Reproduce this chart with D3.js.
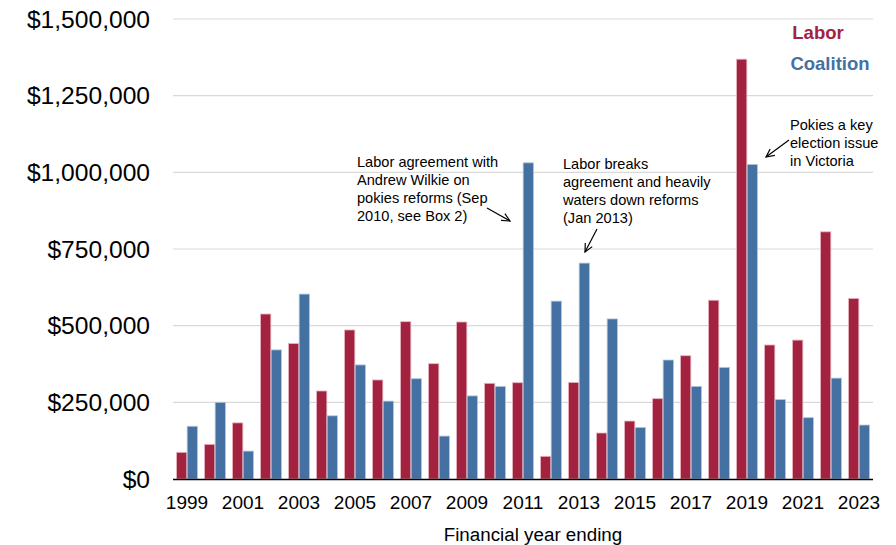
<!DOCTYPE html>
<html>
<head>
<meta charset="utf-8">
<script src="https://cdn.jsdelivr.net/npm/d3@7"></script>
<style>
  body { margin: 0; background: #fff; }
  svg { display: block; font-family: "Liberation Sans", Arial, sans-serif; }
</style>
</head>
<body>
<svg id="chart" width="896" height="545"></svg>
<script>
const years = [1999,2000,2001,2002,2003,2004,2005,2006,2007,2008,2009,2010,2011,2012,2013,2014,2015,2016,2017,2018,2019,2020,2021,2022,2023];
const labor = [87000,113000,183000,538000,442000,287000,486000,323000,513000,376000,512000,312000,314000,74000,315000,150000,189000,262000,402000,583000,1369000,437000,453000,806000,589000];
const coalition = [172000,250000,91000,421000,603000,206000,372000,254000,327000,140000,271000,302000,1031000,580000,704000,522000,168000,388000,302000,364000,1026000,259000,200000,329000,176000];
const yTicks = [0,250000,500000,750000,1000000,1250000,1500000];
const xTickYears = [1999,2001,2003,2005,2007,2009,2011,2013,2015,2017,2019,2021,2023];
const seriesNames = ["Labor","Coalition"];
const colors = {Labor: "#A3223F", Coalition: "#4470A2"};
const strokes = {Labor: "#e8b7c2", Coalition: "#b5c8de"};
const annotations = [
  {lines: ["Labor agreement with","Andrew Wilkie on","pokies reforms (Sep","2010, see Box 2)"], x: 357, y: 162, arrow: [487,208,510,221]},
  {lines: ["Labor breaks","agreement and heavily","waters down reforms","(Jan 2013)"], x: 563, y: 164, arrow: [597,229,585,252]},
  {lines: ["Pokies a key","election issue","in Victoria"], x: 790, y: 125, arrow: [789,140,766,157]}
];

(function () {
const svg = d3.select("#chart");
const pLeft = 173, pRight = 873, pTop = 19, pBottom = 479;

const y = d3.scaleLinear().domain([0,1500000]).range([pBottom, pTop]);
const x0 = d3.scaleBand().domain(years).range([pLeft, pRight]).paddingInner(0.25).paddingOuter(0.125);
const x1 = d3.scaleBand().domain(seriesNames).range([0, x0.bandwidth()]).paddingInner(0.03);

// gridlines
svg.append("g").selectAll("line").data(yTicks.filter(d => d > 0)).join("line")
  .attr("x1", pLeft).attr("x2", pRight)
  .attr("y1", d => y(d)).attr("y2", d => y(d))
  .attr("stroke", "#d9d9d9").attr("stroke-width", 1.2);

// y labels
const fmt = d3.format("$,");
svg.append("g").selectAll("text").data(yTicks).join("text")
  .attr("x", 150).attr("y", d => y(d))
  .attr("dy", "0.35em").attr("text-anchor", "end")
  .attr("font-size", 24.6).attr("fill", "#000")
  .text(d => fmt(d));

// bars
const groups = svg.append("g").selectAll("g").data(years).join("g")
  .attr("transform", d => `translate(${x0(d)},0)`);
groups.selectAll("rect").data((d, i) => [
  {s: "Labor", v: labor[i]}, {s: "Coalition", v: coalition[i]}
]).join("rect")
  .attr("x", d => x1(d.s)).attr("width", x1.bandwidth())
  .attr("y", d => y(d.v)).attr("height", d => y(0) - y(d.v))
  .attr("fill", d => colors[d.s])
  .attr("stroke", d => strokes[d.s]).attr("stroke-width", 0.8);

// baseline
svg.append("line").attr("x1", pLeft).attr("x2", pRight)
  .attr("y1", pBottom + 0.5).attr("y2", pBottom + 0.5)
  .attr("stroke", "#000").attr("stroke-width", 1.5);

// x labels
svg.append("g").selectAll("text").data(xTickYears).join("text")
  .attr("x", d => x0(d) + x0.bandwidth() / 2).attr("y", 502)
  .attr("dy", "0.35em").attr("text-anchor", "middle")
  .attr("font-size", 19).attr("fill", "#000")
  .text(d => d);

svg.append("text").attr("x", 533).attr("y", 534)
  .attr("dy", "0.35em").attr("text-anchor", "middle")
  .attr("font-size", 18.8).attr("fill", "#000")
  .text("Financial year ending");

// legend
svg.append("text").attr("x", 818).attr("y", 33).attr("dy", "0.35em")
  .attr("text-anchor", "middle").attr("font-size", 18.5).attr("font-weight", "bold")
  .attr("fill", colors.Labor).text("Labor");
svg.append("text").attr("x", 830).attr("y", 64).attr("dy", "0.35em")
  .attr("text-anchor", "middle").attr("font-size", 18.5).attr("font-weight", "bold")
  .attr("fill", colors.Coalition).text("Coalition");

// annotations
annotations.forEach(a => {
  const t = svg.append("text").attr("font-size", 14.6).attr("fill", "#000");
  a.lines.forEach((l, i) => {
    t.append("tspan").attr("x", a.x).attr("y", a.y + i * 18).attr("dy", "0.35em").text(l);
  });
  const [xa, ya, xb, yb] = a.arrow;
  svg.append("line").attr("x1", xa).attr("y1", ya).attr("x2", xb).attr("y2", yb)
    .attr("stroke", "#000").attr("stroke-width", 1.2);
  const ang = Math.atan2(yb - ya, xb - xa);
  const hl = 9, ha = 0.45;
  const p1 = [xb - hl * Math.cos(ang - ha), yb - hl * Math.sin(ang - ha)];
  const p2 = [xb - hl * Math.cos(ang + ha), yb - hl * Math.sin(ang + ha)];
  svg.append("path").attr("d", `M${p1[0]},${p1[1]}L${xb},${yb}L${p2[0]},${p2[1]}`)
    .attr("fill", "none").attr("stroke", "#000").attr("stroke-width", 1.2);
});
})();
</script>
</body>
</html>
